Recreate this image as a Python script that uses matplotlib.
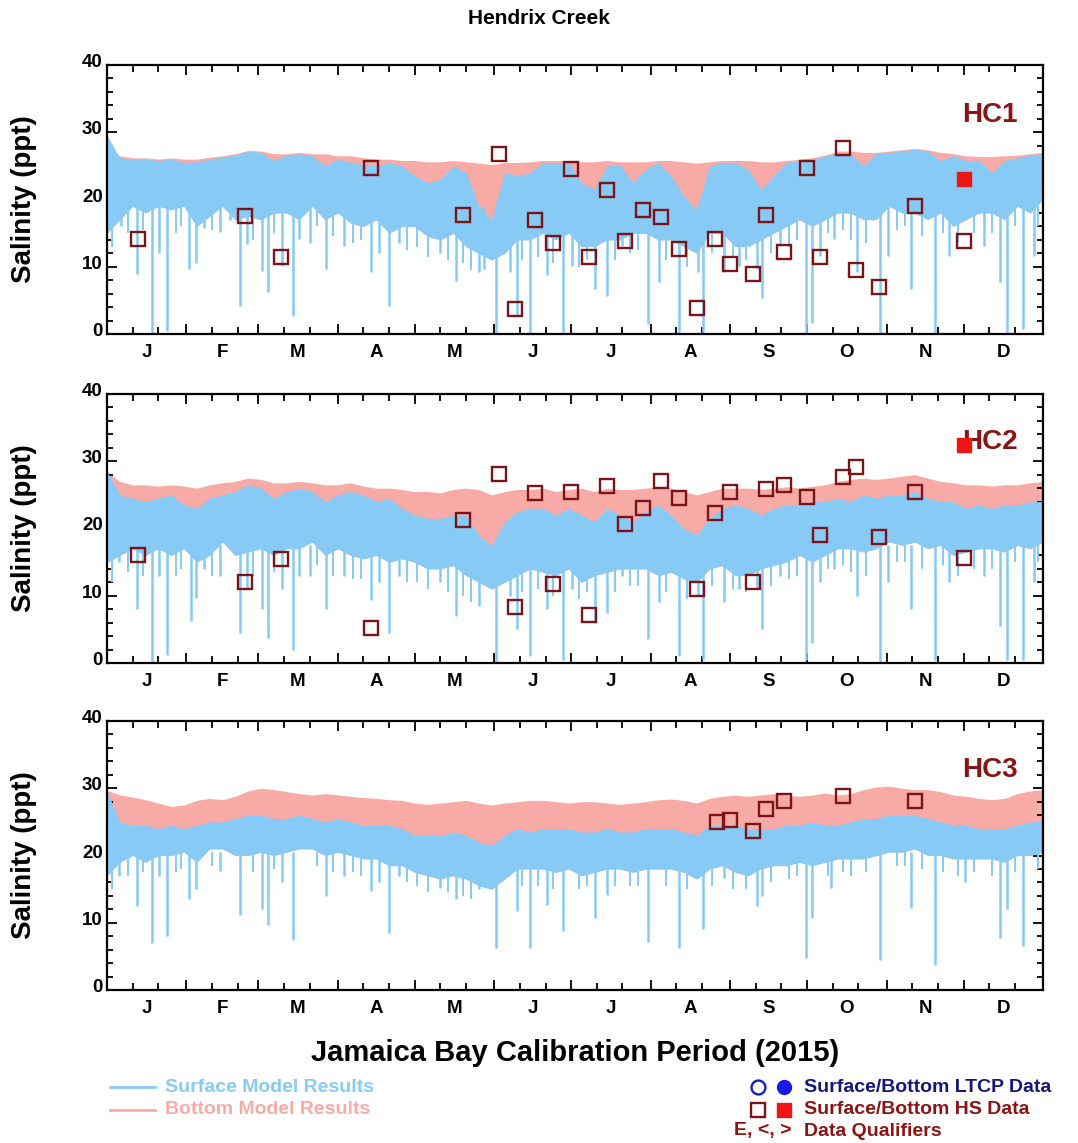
import numpy as np
import matplotlib
matplotlib.use("Agg")
import matplotlib.pyplot as plt
from matplotlib.lines import Line2D
from matplotlib.transforms import ScaledTranslation, blended_transform_factory

plt.rcParams["font.family"] = ["Liberation Sans", "DejaVu Sans"]
plt.rcParams["font.weight"] = "bold"

# ── data (day of year 2015, salinity ppt) ─────────────────
DAYS = np.arange(0, 366, 5)  # model envelope read every 5 days

# HC1
surf_top_1 = [29.5, 26.2, 26.0, 26.0, 25.8, 26.0, 25.5, 25.6, 26.0, 26.3,
              26.6, 27.2, 27.0, 25.8, 26.6, 26.8, 26.5, 25.0, 26.0, 25.5,
              25.2, 25.0, 25.5, 25.0, 23.5, 22.5, 23.0, 25.0, 24.0, 19.0,
              17.0, 24.0, 23.5, 24.0, 25.5, 25.5, 25.5, 22.5, 21.5, 25.0,
              25.2, 22.5, 24.5, 25.5, 23.5, 20.5, 18.5, 25.0, 25.5, 25.5,
              24.5, 21.5, 23.5, 25.5, 25.8, 26.0, 26.4, 27.0, 26.8, 25.0,
              26.8, 27.0, 27.2, 27.5, 27.2, 25.8, 26.5, 25.8, 25.8, 24.0,
              25.8, 26.2, 26.6, 26.8]
surf_low_1 = [15, 17, 19, 18, 19, 18.5, 19, 16, 17.5, 19,
              17, 17.5, 17, 18, 18, 17, 19, 17, 18, 16.5,
              16, 17, 15, 16, 16, 14.5, 14, 15, 13, 12,
              11, 12, 14, 14, 15, 14, 15, 13, 13, 14,
              14, 15, 15, 14, 14, 13, 12, 15, 15, 13,
              13, 14, 15, 16, 17, 16, 17, 18, 18, 17,
              17, 19, 18, 18, 17, 18, 16, 17, 18, 18,
              17, 19, 18, 20]
bot_top_1 = [27.5, 26.5, 26.2, 26.2, 26.0, 26.2, 26.0, 26.0, 26.3, 26.5,
             26.8, 27.3, 27.2, 26.8, 26.8, 27.0, 26.8, 26.8, 26.5, 26.5,
             26.2, 26.0, 26.0, 25.8, 25.8, 25.6, 25.6, 25.8, 25.6, 25.4,
             25.2, 25.5, 25.5, 25.6, 25.8, 25.8, 25.8, 25.6, 25.6, 25.8,
             25.6, 25.6, 25.6, 25.8, 25.8, 25.6, 25.4, 25.6, 25.8, 25.8,
             25.8, 25.6, 25.6, 25.8, 26.0, 26.2, 26.6, 27.2, 27.2, 27.0,
             27.0, 27.2, 27.4, 27.6, 27.4, 27.0, 26.8, 26.5, 26.4, 26.4,
             26.5, 26.6, 26.8, 27.0]
dip_day_1 = [4.6, 5.5, 11.7, 17.4, 20.3, 23.4, 32.1, 34.8, 37.8, 44.2, 48, 52,
             54.4, 60.3, 62.8, 68.1, 72.4, 75, 79.2, 85.3, 92.6, 103, 106, 110,
             114, 130, 136, 145, 147, 151.7, 157, 159.7, 165, 171.5, 177.9,
             181.3, 190.2, 195, 201, 211, 215.4, 222.9, 230.4, 232.4, 240.6,
             246.5, 253.5, 255.6, 262.4, 272.6, 275, 278, 283.5, 292.4, 301.3,
             304.6, 313.5, 323, 328.4, 342, 348.3, 351, 357.1, 361.3]
dip_min_1 = [17.1, 16, 8.9, 0, 12, 0.5, 9.7, 10.6, 15.8, 15.1, 17, 4.2,
             13.4, 9.4, 6.2, 10.1, 2.7, 14.1, 13.6, 9.7, 13.1, 9.2, 12.1, 4.2,
             13.6, 12.1, 7.9, 9.2, 9.7, 0, 9.2, 2.7, 0, 8.7, 0,
             10.1, 6.7, 5.7, 13.1, 1.5, 7.7, 0, 9.2, 0.2, 9.2,
             10.1, 9.7, 5.4, 13.1, 0, 1.7, 11.6, 14.1, 9.2, 0,
             11.6, 6.7, 0, 11.6, 13.1, 7.7, 0, 0.7, 11.6]
# shallow tidal dips along the lower edge of the surface band
ripple_day = [2, 8, 14, 27, 29, 41, 57, 65, 82, 88, 96, 99, 117, 121, 125, 133,
              139, 142, 162, 168, 174, 184, 187, 198, 204, 207, 218, 226, 236,
              244, 249, 259, 266, 269, 281, 287, 290, 296, 308, 311, 318, 326,
              332, 338, 345, 354, 363]
ripple_min_1 = [13, 15, 15.5, 15, 16, 15.5, 14, 15, 16, 14.5, 13.5, 14, 12.5,
                13, 11.5, 11, 10.5, 9.5, 11, 11.5, 10.5, 10, 11, 11, 12, 12.5,
                11, 10, 12, 11.5, 11, 12, 13, 14, 15, 15.5, 14, 13.5, 15.5, 16,
                14.5, 15, 13.5, 15, 15, 16, 16]
hs_day_1 = [12, 54, 68, 103, 139, 153, 159, 167, 174, 181, 188, 195, 202, 209,
            216, 223, 230, 237, 243, 252, 257, 264, 273, 278, 287, 292, 301,
            315, 334]
hs_surf_1 = [14.1, 17.6, 11.4, 24.75, 17.7, 26.8, 3.7, 17.0, 13.5, 24.6, 11.4,
             21.4, 13.9, 18.5, 17.4, 12.7, 3.8, 14.2, 10.4, 8.9, 17.7, 12.2,
             24.65, 11.5, 27.7, 9.55, 7.0, 19.06, 13.8]
hs_bot_day_1 = [334]
hs_bot_1 = [23.0]

# HC2
surf_top_2 = [28.5, 25.0, 24.5, 24.0, 24.5, 25.0, 23.5, 23.0, 24.5, 25.0,
              25.5, 26.5, 26.0, 24.5, 25.5, 26.0, 25.5, 24.0, 25.0, 25.5,
              25.0, 24.0, 24.5, 23.0, 22.0, 21.5, 21.5, 22.0, 22.0, 19.0,
              17.5, 21.0, 22.5, 23.0, 23.0, 22.0, 23.0, 22.0, 21.0, 23.0,
              22.0, 21.0, 22.5, 23.5, 22.0, 20.0, 19.0, 21.5, 23.0, 23.5,
              23.0, 22.0, 23.0, 23.5, 23.5, 24.0, 24.0, 24.5, 24.0, 25.0,
              24.5, 25.0, 25.0, 25.5, 24.5, 24.0, 24.0, 23.0, 23.5, 23.0,
              23.5, 23.5, 24.0, 24.0]
surf_low_2 = [15, 16, 17, 16, 17, 16, 17, 15, 16, 18,
              16, 16.5, 17, 16, 17, 17, 18, 16, 17, 16,
              15.5, 16, 15, 15.5, 15, 14, 14, 14.5, 13, 12,
              11, 12, 13, 14, 13.5, 13, 14, 12, 13, 13.5,
              14, 14, 14, 13, 13.5, 12.5, 12, 14, 14.5, 13,
              13, 14, 14.5, 15, 16, 15, 16, 17, 17, 16.5,
              17, 18, 17.5, 18, 17, 17.5, 16, 16.5, 17, 17,
              16.5, 17.5, 17, 18]
bot_top_2 = [28.5, 27.0, 26.5, 26.5, 26.3, 26.5, 26.3, 26.0, 26.5, 26.8,
             27.0, 27.5, 27.3, 26.8, 26.8, 27.0, 26.8, 26.5, 26.5, 26.8,
             26.3, 26.0, 26.0, 25.8, 25.5, 25.5, 25.3, 25.8, 26.0, 25.8,
             25.0, 25.5, 25.8, 25.8, 26.0, 25.5, 25.8, 26.0, 25.5, 26.0,
             25.8, 25.8, 26.0, 26.2, 26.0, 25.5, 25.0, 25.5, 26.0, 26.0,
             26.0, 25.8, 26.0, 26.2, 26.0, 26.3, 26.5, 27.0, 27.3, 27.5,
             27.3, 27.5, 27.8, 28.0, 27.5, 27.0, 26.8, 26.5, 26.5, 26.3,
             26.5, 26.5, 26.8, 27.0]
dip_day_2 = [4.6, 11.7, 17.4, 20.3, 23.4, 32.8, 34.8, 37.8, 44.2, 52, 54.4,
             60.3, 62.8, 68.1, 72.4, 75, 79.2, 85.3, 92.6, 103, 106, 110, 114,
             130, 136, 145, 151.7, 157, 159.7, 165, 171.5, 177.9, 181.3, 190.2,
             195, 201, 211, 215.4, 222.9, 230.4, 232.4, 240.6, 246.5, 253.5,
             255.6, 262.4, 272.6, 275, 278, 283.5, 292.4, 301.3, 304.6, 313.5,
             323, 328.4, 342, 348.3, 351, 357.1, 361.3]
dip_min_2 = [15, 8.0, 0, 13, 1.2, 6.2, 9.7, 14, 13, 4.5, 11,
             8, 3.7, 11, 2.0, 13, 13, 8.0, 13, 9.4, 12, 4.5, 13,
             12, 7.0, 8.5, 0, 10, 5.0, 1.0, 8, 0.5, 11, 6,
             7.5, 13, 3.5, 9, 1, 10, 0.5, 9, 11, 11,
             5, 13, 0.5, 3, 12, 14, 10, 0, 12, 8,
             0.5, 12, 13, 5.5, 0.5, 0.5, 12]
ripple_min_2 = [12, 13.5, 13, 13, 14, 13, 13, 13.5, 14.5, 13, 12.5, 12.5, 12,
                12, 11, 10.5, 10, 9, 10.5, 11, 10, 9.5, 10.5, 10.5, 11.5, 11.5,
                10.5, 9.5, 11.5, 11, 10.5, 11.5, 12.5, 13, 14, 14.5, 13.5, 13,
                15, 15, 14, 14.5, 13, 14, 14, 15, 15]
hs_day_2 = hs_day_1
hs_surf_2 = [16.1, 12.0, 15.5, 5.2, 21.2, 28.1, 8.3, 25.3, 11.7, 25.4, 7.1,
             26.3, 20.6, 23.1, 27.0, 24.5, 11.0, 22.3, 25.5, 12.0, 25.9, 26.4,
             24.7, 19.1, 27.6, 29.1, 18.7, 25.5, 15.6]
hs_bot_day_2 = [334]
hs_bot_2 = [32.4]

# HC3
surf_top_3 = [29.5, 25.0, 24.5, 24.5, 24.0, 24.5, 24.0, 24.5, 25.0, 25.0,
              25.5, 26.0, 26.0, 25.5, 25.5, 26.0, 25.5, 25.0, 25.5, 25.0,
              24.5, 24.5, 24.5, 24.0, 23.0, 23.0, 23.0, 23.5, 23.0, 22.0,
              21.5, 23.0, 24.0, 23.5, 24.0, 24.0, 24.0, 23.5, 23.5, 24.0,
              23.5, 23.5, 24.0, 24.0, 24.0, 23.5, 23.0, 24.5, 24.5, 24.5,
              24.0, 24.0, 24.0, 24.5, 24.5, 25.0, 24.5, 24.5, 25.0, 25.5,
              25.5, 26.0, 26.0, 26.0, 25.5, 25.0, 24.5, 24.5, 24.0, 24.0,
              24.0, 24.5, 25.0, 25.0]
surf_low_3 = [17, 19, 20, 19, 20, 20, 20.5, 19, 21, 21,
              20, 20, 20.5, 20, 20.5, 21, 21, 20, 20.5, 20,
              19.5, 19.5, 18.5, 18.5, 17.5, 17, 16.5, 17, 16.5, 15.5,
              15, 16.5, 18, 18, 18, 17.5, 18, 17, 17.5, 18,
              18, 17.5, 18, 18, 18, 17.5, 16.5, 18, 18.5, 17.5,
              17, 18, 18.5, 18.5, 19, 18.5, 19, 19.5, 19.5, 19.5,
              20, 20.5, 20.5, 21, 20, 20, 19.5, 19.5, 19.5, 19.5,
              19, 20, 20, 20.5]
bot_top_3 = [29.7, 29.0, 28.7, 28.3, 27.8, 27.3, 27.5, 28.2, 28.5, 28.3,
             28.8, 29.6, 30.0, 29.8, 29.5, 29.2, 29.0, 29.2, 29.0, 28.8,
             28.6, 28.5, 28.3, 28.2, 27.8, 27.6, 27.8, 28.0, 28.2, 27.8,
             27.5, 27.8, 28.0, 28.2, 28.2, 28.0, 27.8, 28.0, 28.0, 27.8,
             27.6, 27.8, 28.0, 28.3, 28.4, 28.2, 27.8, 28.5, 28.8, 29.0,
             28.8, 29.0, 29.2, 29.0, 28.8, 29.0, 29.3, 29.0, 29.2, 29.8,
             30.2, 30.3, 30.0, 29.8, 29.8, 29.5, 29.0, 28.8, 28.5, 28.3,
             28.5, 29.2, 29.6, 29.8]
dip_day_3 = [4.6, 11.7, 17.4, 20.3, 23.4, 32.1, 34.8, 44.2, 52, 60.3, 62.8,
             68.1, 72.4, 85.3, 92.6, 103, 106, 110, 114, 130, 136, 145, 151.7,
             159.7, 165, 171.5, 177.9, 190.2, 195, 211, 222.9, 232.4, 240.6,
             253.5, 255.6, 272.6, 275, 282.2, 301.3, 313.5, 323, 334.6, 348.3,
             351, 357.1]
dip_min_3 = [17, 12.5, 7, 17, 8, 13.5, 15, 17.7, 11.2, 12, 9.7,
             16, 7.5, 14, 17, 14.7, 16, 8.5, 17, 15.2, 13.5, 15, 6.2,
             11.7, 6.2, 12.7, 8.7, 10.7, 14.2, 7.2, 6.2, 9, 16.7,
             12.5, 14, 4.7, 10.7, 15.2, 4.5, 12.2, 3.7, 16, 7.7,
             12, 6.5]
ripple_min_3 = [15, 17, 17.5, 17.5, 18, 18.5, 17.5, 18, 18.5, 17.5, 17.5, 17,
                16, 15.5, 14.5, 14.5, 14, 13.5, 15.5, 15.5, 15, 15, 15.5, 15.5,
                15.5, 15.5, 15.5, 15, 15.5, 15, 15, 16, 16.5, 17, 17, 17.5, 17,
                17.5, 18.5, 18.5, 18, 17.5, 17, 17.5, 17, 17.5, 18]
hs_day_3 = [238, 243, 252, 257, 264, 287, 315]
hs_surf_3 = [25.0, 25.35, 23.65, 26.9, 28.15, 28.85, 28.15]
hs_bot_day_3 = []
hs_bot_3 = []

STATIONS = ["HC1", "HC2", "HC3"]
STATION_Y = [32.5, 32.8, 32.75]
MONTHS = ["J", "F", "M", "A", "M", "J", "J", "A", "S", "O", "N", "D"]
MONTH_START = [0, 31, 59, 90, 120, 151, 181, 212, 243, 273, 304, 334, 365]

BLUE = "#87CAF5"
PINK = "#F8ABA6"
DARKRED = "#8B1414"
SQ_EDGE = "#7A1418"
RED = "#EE1515"

panels = [
    (surf_top_1, surf_low_1, bot_top_1, dip_day_1, dip_min_1, ripple_min_1,
     hs_day_1, hs_surf_1, hs_bot_day_1, hs_bot_1),
    (surf_top_2, surf_low_2, bot_top_2, dip_day_2, dip_min_2, ripple_min_2,
     hs_day_2, hs_surf_2, hs_bot_day_2, hs_bot_2),
    (surf_top_3, surf_low_3, bot_top_3, dip_day_3, dip_min_3, ripple_min_3,
     hs_day_3, hs_surf_3, hs_bot_day_3, hs_bot_3),
]
SPIKE_TOP = [19.0, 17.5, 20.5]

W, H = 1078, 1143
fig = plt.figure(figsize=(W / 100, H / 100), dpi=100)


def fx(px):
    return px / W


def fy(py):
    return 1 - py / H


AX_L, AX_R = 107, 1043
AX_TOPS = [65, 394, 721]
AX_H = 269

mid_month = [(a + b) / 2 for a, b in zip(MONTH_START[:-1], MONTH_START[1:])]
minor_x = [s + k for s in MONTH_START[:-1] for k in (10, 20)]

for k, (top, low, btop, dd, dm, rm, hd, hv, bd, bv) in enumerate(panels):
    ax = fig.add_axes([fx(AX_L), fy(AX_TOPS[k] + AX_H), (AX_R - AX_L) / W, AX_H / H])

    ax.fill_between(DAYS, low, btop, color=PINK, lw=0, zorder=1)
    ax.fill_between(DAYS, low, top, color=BLUE, lw=0, zorder=2)
    ax.vlines(dd, dm, SPIKE_TOP[k], color=BLUE, lw=1.8, zorder=2)
    ax.vlines(ripple_day, rm, SPIKE_TOP[k], color=BLUE, lw=1.4, zorder=2)

    ax.plot(hd, hv, ls="none", marker="s", ms=9.5, mfc="none", mec=SQ_EDGE,
            mew=1.7, zorder=5)
    if bd:
        ax.plot(bd, bv, ls="none", marker="s", ms=9.5, color=RED, zorder=6)

    ax.set_xlim(0, 365)
    ax.set_ylim(0, 40)
    ax.set_xticks(MONTH_START[:-1])
    ax.set_xticks(minor_x, minor=True)
    ax.set_yticks([0, 10, 20, 30, 40])
    ax.set_yticks(np.arange(0, 41, 2), minor=True)
    ax.tick_params(which="both", direction="in", top=True, right=True,
                   width=1.3, labelbottom=False, labelsize=13.5, pad=3)
    ax.tick_params(axis="y", which="major", length=7)
    ax.tick_params(axis="y", which="minor", length=4.3)
    ax.tick_params(axis="x", which="major", length=7.5)
    ax.tick_params(axis="x", which="minor", length=5)
    for lab in ax.get_yticklabels():
        lab.set_fontweight("bold")
        lab.set_transform(lab.get_transform() + ScaledTranslation(0, 0.045, fig.dpi_scale_trans))
    for sp in ax.spines.values():
        sp.set_linewidth(1.6)

    for m, x in zip(MONTHS, mid_month):
        ax.text(x, -0.07, m, transform=ax.get_xaxis_transform(), ha="center",
                va="center", fontsize=13.5, fontweight="bold")

    ax.set_ylabel("Salinity (ppt)", fontsize=20, fontweight="bold")
    ax.yaxis.set_label_coords(-0.075, 0.5)

    tr = blended_transform_factory(ax.transAxes, ax.transData)
    ax.text(0.973, STATION_Y[k], STATIONS[k], transform=tr, ha="right",
            va="center", fontsize=20, fontweight="bold", color=DARKRED, zorder=4)

fig.text(0.5, fy(18), "Hendrix Creek", ha="center", va="center",
         fontsize=15, fontweight="bold")
fig.text(fx(575), fy(1053), "Jamaica Bay Calibration Period (2015)",
         ha="center", va="center", fontsize=21, fontweight="bold")

# ── legend, bottom of figure ─────────────────────────────
fig.add_artist(Line2D([fx(110), fx(155)], [fy(1087), fy(1087)], color=BLUE, lw=2))
fig.add_artist(Line2D([fx(110), fx(155)], [fy(1110), fy(1110)], color=PINK, lw=2))
fig.text(fx(165), fy(1087), "Surface Model Results", color=BLUE, fontsize=14,
         fontweight="bold", va="center")
fig.text(fx(165), fy(1110), "Bottom Model Results", color=PINK, fontsize=14,
         fontweight="bold", va="center")

fig.add_artist(Line2D([fx(758)], [fy(1087)], ls="none", marker="o", ms=10,
                      mfc="none", mec="#1A1AD0", mew=1.7))
fig.add_artist(Line2D([fx(784)], [fy(1087)], ls="none", marker="o", ms=10,
                      color="#1A1AE8"))
fig.add_artist(Line2D([fx(758)], [fy(1110)], ls="none", marker="s", ms=10,
                      mfc="none", mec=SQ_EDGE, mew=1.7))
fig.add_artist(Line2D([fx(784)], [fy(1110)], ls="none", marker="s", ms=10,
                      color=RED))
fig.text(fx(791), fy(1131), "E, <, >", color=DARKRED, fontsize=14,
         fontweight="bold", ha="right", va="center")
fig.text(fx(804), fy(1087), "Surface/Bottom LTCP Data", color="#16167A",
         fontsize=14, fontweight="bold", va="center")
fig.text(fx(804), fy(1110), "Surface/Bottom HS Data", color=DARKRED,
         fontsize=14, fontweight="bold", va="center")
fig.text(fx(804), fy(1131), "Data Qualifiers", color=DARKRED,
         fontsize=14, fontweight="bold", va="center")

fig.savefig("out.png", dpi=100)
